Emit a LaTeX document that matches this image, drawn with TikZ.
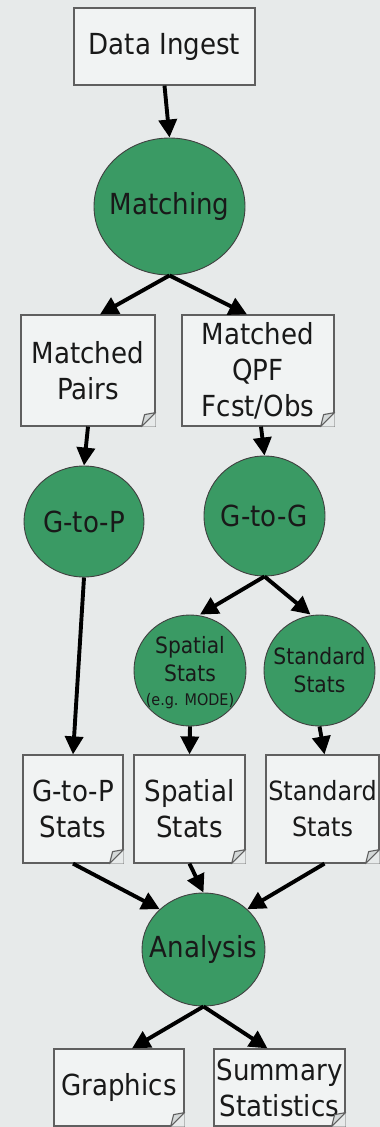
\documentclass[tikz,border=0pt]{standalone}
\usepackage{fontspec}
\setmainfont{DejaVu Sans Condensed}
\usetikzlibrary{arrows.meta,shapes.geometric}
\definecolor{bg}{RGB}{231,234,234}
\definecolor{procgreen}{RGB}{58,154,100}
\definecolor{boxfill}{RGB}{241,243,243}
\definecolor{boxline}{RGB}{95,95,95}
\definecolor{foldfill}{RGB}{212,216,216}
\definecolor{ink}{RGB}{25,25,25}
\tikzset{
  doc/.style={draw=boxline, line width=1.2pt, fill=boxfill, inner sep=0pt, align=center,
    text=ink, font=\fontsize{29}{36}\selectfont},
  proc/.style={ellipse, draw=black!75, line width=0.9pt, fill=procgreen, inner sep=0pt},
  big/.style={font=\fontsize{29}{36}\selectfont, text=ink, align=center, inner sep=0pt},
  small/.style={font=\fontsize{22.5}{28}\selectfont, text=ink, align=center, inner sep=0pt},
  flow/.style={line width=3.9pt, -{Triangle[length=18pt,width=18pt]}},
}
\newcommand\dogear[1]{%
  \fill[bg] ([xshift=-14pt]#1.south east) -- (#1.south east) -- ([yshift=14pt]#1.south east) -- cycle;
  \draw[boxline, line width=1.1pt, fill=foldfill, line join=round]
    ([xshift=-14pt]#1.south east) -- ([xshift=-11pt,yshift=12pt]#1.south east)
    -- ([yshift=14pt]#1.south east) -- cycle;}
\begin{document}
\begin{tikzpicture}[x=1pt,y=-1pt]
\fill[bg] (0,0) rectangle (380,1127);
\useasboundingbox (0,0) rectangle (380,1127);

% nodes
\node[doc, minimum width=181pt, minimum height=77pt] (ingest) at (164.5,46.5) {Data Ingest};
\node[proc, minimum width=151pt, minimum height=137pt, label={[big]center:Matching}] (match) at (169.5,206.5) {};

\node[doc, minimum width=134pt, minimum height=111pt] (pairs) at (88,370.5) {Matched\\Pairs};
\node[doc, minimum width=152pt, minimum height=111pt] (qpf) at (258,370.5) {Matched\\QPF\\Fcst/Obs};

\node[proc, minimum width=120pt, minimum height=111pt, label={[big]center:G-to-P}] (gtop) at (84,521.5) {};
\node[proc, minimum width=121pt, minimum height=120pt, label={[big]center:G-to-G}] (gtog) at (264.5,516) {};

\node[proc, minimum width=112pt, minimum height=111pt,
  label={[small, yshift=-2pt]center:Spatial\\Stats\\[-4pt]{\fontsize{16}{18}\selectfont(e.g. MODE)}}] (spc) at (190,670.5) {};
\node[proc, minimum width=111pt, minimum height=111pt, label={[small]center:Standard\\Stats}] (stdc) at (319.5,670.5) {};

\node[doc, minimum width=100pt, minimum height=108pt] (gpstats) at (73,809) {G-to-P\\Stats};
\node[doc, minimum width=111pt, minimum height=108pt] (spstats) at (189.5,809) {Spatial\\Stats};
\node[doc, minimum width=113pt, minimum height=108pt, font=\fontsize{26.5}{36}\selectfont] (ststats) at (322.5,809) {Standard\\Stats};

\node[proc, minimum width=123pt, minimum height=113pt, label={[big]center:Analysis}] (analysis) at (203.5,949.5) {};

\node[doc, minimum width=130pt, minimum height=77pt] (graphics) at (119,1087.5) {Graphics};
\node[doc, minimum width=131pt, minimum height=77pt] (summary) at (279.5,1087.5) {Summary\\Statistics};

\dogear{pairs}
\dogear{qpf}
\dogear{gpstats}
\dogear{spstats}
\dogear{ststats}
\dogear{graphics}
\dogear{summary}

% connectors
\draw[flow] (ingest.south) -- (match.north);
\draw[flow] (match.south) -- ([xshift=12pt]pairs.north);
\draw[flow] (match.south) -- ([xshift=-11pt]qpf.north);
\draw[flow] (pairs.south) -- (gtop.north);
\draw[flow] ([xshift=3pt]qpf.south) -- (gtog.north);
\draw[flow] (gtog.south) -- ([xshift=10pt]spc.north);
\draw[flow] (gtog.south) -- ([xshift=-9pt]stdc.north);
\draw[flow] (gtop.south) -- (gpstats.north);
\draw[flow] (spc.south) -- (spstats.north);
\draw[flow] (stdc.south) -- ([xshift=2pt]ststats.north);
\draw[flow] (gpstats.south) -- (analysis.north west);
\draw[flow] (spstats.south) -- (analysis.north);
\draw[flow] ([xshift=2pt]ststats.south) -- (analysis.north east);
\draw[flow] (analysis.south) -- ([xshift=13pt]graphics.north);
\draw[flow] (analysis.south) -- ([xshift=-12pt]summary.north);
\end{tikzpicture}
\end{document}
